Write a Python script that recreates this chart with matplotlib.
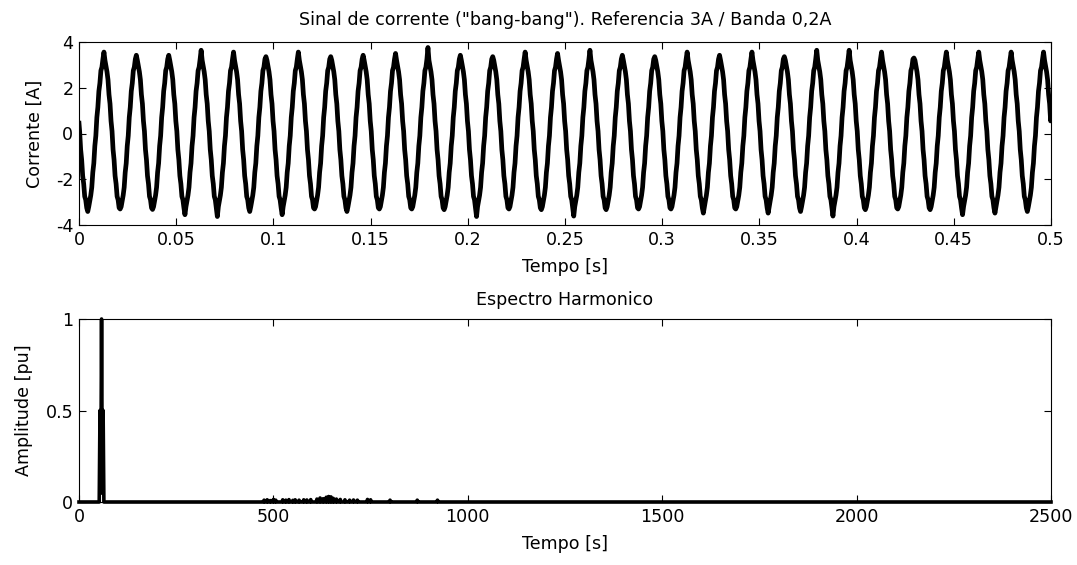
import numpy as np
import matplotlib
matplotlib.use("Agg")
import matplotlib.pyplot as plt

plt.rcParams['font.family'] = ['DejaVu Sans']
plt.rcParams['axes.unicode_minus'] = False

# ---------------- data ----------------
f_fund = 60.0              # Hz, fundamental (spectrum peak)
t_first_cross = 0.00033    # s, first falling zero crossing
i_at_start = 0.45          # A at t = 0
i_at_end = 0.95            # A at t = 0.5

# one cycle, 32 samples from the falling zero crossing (with switching ripple);
# sample 8 is the trough and sample 24 the crest, taken per cycle below
cycle_shape = [0.10, -0.70, -1.15, -1.85, -2.20, -2.75, -2.90, -3.25,
               0.0, -3.20, -2.95, -2.70, -2.35, -1.70, -1.30, -0.55,
               -0.10, 0.70, 1.15, 1.85, 2.20, 2.75, 2.90, 3.25,
               0.0, 3.20, 2.95, 2.70, 2.35, 1.70, 1.30, 0.55]

crest_values = [3.56, 3.42, 3.42, 3.64, 3.56, 3.36, 3.56,
                3.36, 3.42, 3.50, 3.76, 3.42, 3.36, 3.56, 3.50,
                3.64, 3.42, 3.36, 3.56, 3.42, 3.56, 3.36,
                3.64, 3.64, 3.56, 3.30, 3.56, 3.56, 3.56, 3.56]
trough_values = [-3.41, -3.30, -3.32, -3.55, -3.63, -3.41, -3.55, -3.30,
                 -3.41, -3.30, -3.30, -3.33, -3.63, -3.30, -3.33,
                 -3.61, -3.33, -3.30, -3.30, -3.48, -3.30, -3.48, -3.41,
                 -3.61, -3.33, -3.30, -3.33, -3.55, -3.48, -3.41]

# spectrum (pu), 2 Hz resolution
spec_step = 2.0
spec_max = 2500.0
fund_freqs = [54, 56, 58, 60, 62]
fund_amps = [0.50, 0.05, 1.00, 0.05, 0.50]
harm_freqs = [476, 484, 492, 500, 506, 524, 532, 540, 550, 556, 566, 578, 586,
              596, 612, 620, 628, 636, 642, 648, 654, 662, 672, 684, 696, 706,
              716, 742, 750, 800, 870, 922]
harm_amps = [0.010, 0.012, 0.008, 0.014, 0.010, 0.012, 0.010, 0.013, 0.009,
             0.012, 0.010, 0.012, 0.011, 0.013, 0.016, 0.022, 0.018, 0.026,
             0.030, 0.028, 0.020, 0.016, 0.014, 0.012, 0.010, 0.011, 0.010,
             0.014, 0.012, 0.010, 0.010, 0.010]

top_xticks = [0, 0.05, 0.1, 0.15, 0.2, 0.25, 0.3, 0.35, 0.4, 0.45, 0.5]
top_xlabels = ['0', '0.05', '0.1', '0.15', '0.2', '0.25', '0.3', '0.35', '0.4', '0.45', '0.5']
top_yticks = [-4, -2, 0, 2, 4]
bot_xticks = [0, 500, 1000, 1500, 2000, 2500]
bot_yticks = [0, 0.5, 1]
bot_ylabels = ['0', '0.5', '1']

title_top = 'Sinal de corrente ("bang-bang"). Referencia 3A / Banda 0,2A'
title_bot = 'Espectro Harmonico'

# ---------------- assemble series ----------------
period = 1.0 / f_fund
n_per = len(cycle_shape)
t_list = [0.0]
i_list = [i_at_start]
for c in range(len(crest_values)):
    vals = list(cycle_shape)
    vals[n_per // 4] = trough_values[c]
    vals[3 * n_per // 4] = crest_values[c]
    for k, v in enumerate(vals):
        t_list.append(t_first_cross + (c * n_per + k) * period / n_per)
        i_list.append(v)
t_list.append(0.5)
i_list.append(i_at_end)

freq = np.arange(0.0, spec_max + spec_step, spec_step)
amp = np.zeros_like(freq)
for f, a in zip(fund_freqs + harm_freqs, fund_amps + harm_amps):
    amp[int(round(f / spec_step))] = a

# ---------------- figure ----------------
W, H = 1077, 565
fig = plt.figure(figsize=(W / 100, H / 100), dpi=100)
ax1 = fig.add_axes([79 / W, (H - 225) / H, 972 / W, 183 / H])
ax2 = fig.add_axes([79 / W, (H - 502) / H, 972 / W, 183 / H])

fs = 12.6
ax1.plot(t_list, i_list, color='black', lw=3.4, solid_joinstyle='round')
ax1.set_xlim(0, 0.5)
ax1.set_ylim(-4, 4)
ax1.set_xticks(top_xticks)
ax1.set_xticklabels(top_xlabels)
ax1.set_yticks(top_yticks)
ax1.set_title(title_top, fontsize=fs, pad=12)
ax1.set_xlabel('Tempo [s]', fontsize=fs, labelpad=7)
ax1.set_ylabel('Corrente [A]', fontsize=fs, labelpad=9)

ax2.plot(freq, amp, color='black', lw=2.6, clip_on=False)
ax2.set_xlim(0, 2500)
ax2.set_ylim(0, 1)
ax2.set_xticks(bot_xticks)
ax2.set_yticks(bot_yticks)
ax2.set_yticklabels(bot_ylabels)
ax2.set_title(title_bot, fontsize=fs, pad=10)
ax2.set_xlabel('Tempo [s]', fontsize=fs, labelpad=7)
ax2.set_ylabel('Amplitude [pu]', fontsize=fs, labelpad=9)

for ax in (ax1, ax2):
    ax.tick_params(direction='in', length=5, width=0.8, top=True, right=True,
                   labelsize=fs, pad=4, colors='black')
    for s in ax.spines.values():
        s.set_linewidth(0.8)
        s.set_color('black')

fig.savefig('out.png', dpi=100)
